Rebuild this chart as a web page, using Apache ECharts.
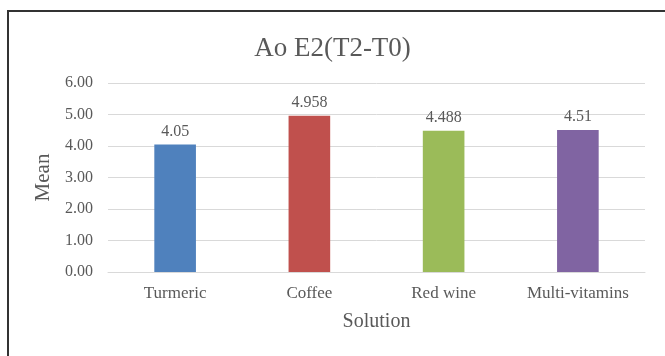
<!DOCTYPE html>
<html>
<head>
<meta charset="utf-8">
<script src="https://cdn.jsdelivr.net/npm/echarts@6/dist/echarts.min.js"></script>
<style>
html,body{margin:0;padding:0;background:#fff;}
#chart{width:665px;height:356px;}
</style>
</head>
<body>
<div id="chart"></div>
<script>
const categories = ['Turmeric', 'Coffee', 'Red wine', 'Multi-vitamins'];
const values = [4.05, 4.958, 4.488, 4.51];
const labels = ['4.05', '4.958', '4.488', '4.51'];
const colors = ['#4F81BD', '#C0504D', '#9BBB59', '#8064A2'];
const yTicks = [0, 1, 2, 3, 4, 5, 6];

const FONT = '"Liberation Serif", "Times New Roman", serif';
const chart = echarts.init(document.getElementById('chart'));
chart.setOption({
  backgroundColor: '#ffffff',
  animation: false,
  title: {
    text: 'Ao E2(T2-T0)',
    left: 'center',
    top: 30,
    textStyle: { fontFamily: FONT, fontSize: 27, fontWeight: 'normal', color: '#595959' }
  },
  graphic: [{
    type: 'rect',
    shape: { x: 8, y: 11, width: 700, height: 400 },
    style: { fill: 'none', stroke: '#333', lineWidth: 2 },
    silent: true
  }],
  grid: { left: 108, right: 20, top: 83, bottom: 84 },
  xAxis: {
    type: 'category',
    data: categories,
    name: 'Solution',
    nameLocation: 'middle',
    nameGap: 40,
    nameTextStyle: { fontFamily: FONT, fontSize: 20, color: '#595959' },
    axisLine: { lineStyle: { color: '#D9D9D9', width: 1 } },
    axisTick: { show: false },
    axisLabel: { fontFamily: FONT, fontSize: 17, color: '#595959', margin: 13 }
  },
  yAxis: {
    type: 'value',
    min: yTicks[0],
    max: yTicks[yTicks.length - 1],
    interval: 1,
    name: 'Mean',
    nameLocation: 'middle',
    nameGap: 54,
    nameTextStyle: { fontFamily: FONT, fontSize: 21, color: '#595959' },
    axisLine: { show: false },
    axisTick: { show: false },
    splitLine: { lineStyle: { color: '#D9D9D9', width: 1 } },
    axisLabel: {
      fontFamily: FONT, fontSize: 16, color: '#595959', margin: 15,
      formatter: v => v.toFixed(2)
    }
  },
  series: [{
    type: 'bar',
    barWidth: '31%',
    data: values.map((v, i) => ({ value: v, itemStyle: { color: colors[i] } })),
    label: {
      show: true,
      position: 'top',
      distance: 5,
      fontFamily: FONT,
      fontSize: 16,
      color: '#595959',
      formatter: p => labels[p.dataIndex]
    }
  }]
});
</script>
</body>
</html>
